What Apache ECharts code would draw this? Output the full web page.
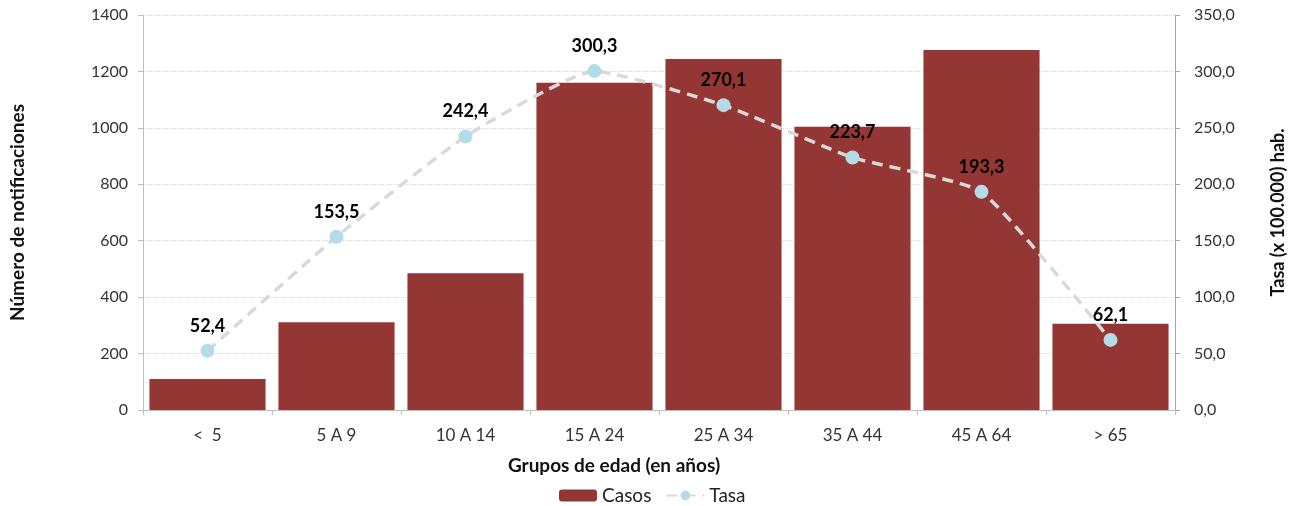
<!DOCTYPE html>
<html>
<head>
<meta charset="utf-8">
<script src="https://cdn.jsdelivr.net/npm/echarts@6/dist/echarts.min.js"></script>
<style>
html,body{margin:0;padding:0;background:#fff;}
#chart{width:1294px;height:506px;}
</style>
</head>
<body>
<div id="chart"></div>
<script>
const categories = ['<  5', '5 A 9', '10 A 14', '15 A 24', '25 A 34', '35 A 44', '45 A 64', '> 65'];
const casos = [110, 311, 485, 1160, 1244, 1004, 1276, 306];
const tasa = [52.4, 153.5, 242.4, 300.3, 270.1, 223.7, 193.3, 62.1];
const leftTicks = [0, 1400, 200];
const rightTicks = [0, 350, 50];

const FONT = 'Lato, "Open Sans", sans-serif';
const fmt = v => Number(v).toFixed(1).replace('.', ',');

const chart = echarts.init(document.getElementById('chart'));
chart.setOption({
  animation: false,
  textStyle: { fontFamily: FONT },
  grid: { left: 143, right: 119, top: 15, bottom: 96, containLabel: false, outerBoundsMode: 'none' },
  legend: {
    top: 481,
    left: 554,
    itemWidth: 38,
    itemHeight: 12,
    itemGap: 14,
    textStyle: { fontSize: 19, color: '#222', fontFamily: FONT },
    data: ['Casos', 'Tasa']
  },
  xAxis: {
    type: 'category',
    data: categories,
    axisLine: { lineStyle: { color: '#bfbfbf' } },
    axisTick: { show: true, length: 5, lineStyle: { color: '#bfbfbf' } },
    axisLabel: { fontSize: 17, color: '#333', margin: 17, fontFamily: FONT },
    name: 'Grupos de edad (en años)',
    nameLocation: 'middle',
    nameGap: 46,
    nameTextStyle: { fontSize: 19, fontWeight: 'bold', color: '#111', padding: [0, 90, 0, 0], fontFamily: FONT }
  },
  yAxis: [
    {
      type: 'value',
      min: leftTicks[0], max: leftTicks[1], interval: leftTicks[2],
      axisLine: { show: true, lineStyle: { color: '#bfbfbf' } },
      axisTick: { show: true, length: 5, lineStyle: { color: '#bfbfbf' } },
      axisLabel: { fontSize: 16, color: '#333', margin: 15, fontFamily: FONT, formatter: v => String(v) },
      splitLine: { show: true, lineStyle: { color: '#d9d9d9', type: 'dotted' } },
      name: 'Número de notificaciones',
      nameLocation: 'middle',
      nameRotate: 90,
      nameGap: 116,
      nameTextStyle: { fontSize: 19, fontWeight: 'bold', color: '#111', fontFamily: FONT }
    },
    {
      type: 'value',
      min: rightTicks[0], max: rightTicks[1], interval: rightTicks[2],
      position: 'right',
      axisLine: { show: true, lineStyle: { color: '#a6a6a6' } },
      axisTick: { show: true, length: 5, lineStyle: { color: '#a6a6a6' } },
      axisLabel: { fontSize: 16, color: '#333', margin: 19, formatter: fmt, fontFamily: FONT },
      splitLine: { show: false },
      name: 'Tasa (x 100.000) hab.',
      nameLocation: 'middle',
      nameRotate: 90,
      nameGap: 94,
      nameTextStyle: { fontSize: 18, fontWeight: 'bold', color: '#111', fontFamily: FONT }
    }
  ],
  series: [
    {
      name: 'Casos',
      type: 'bar',
      data: casos,
      yAxisIndex: 0,
      barCategoryGap: '10%',
      itemStyle: { color: '#943634' }
    },
    {
      name: 'Tasa',
      type: 'line',
      data: tasa,
      yAxisIndex: 1,
      smooth: 0.15,
      symbol: 'circle',
      symbolSize: 14,
      itemStyle: { color: '#b4dce8' },
      lineStyle: { color: '#d9d9d9', width: 3.5, type: [11, 7] },
      label: {
        show: true,
        position: 'top',
        distance: 9,
        formatter: p => fmt(p.value),
        fontSize: 18,
        fontWeight: 'bold',
        color: '#000',
        fontFamily: FONT
      },
      z: 5
    }
  ]
});
</script>
</body>
</html>
